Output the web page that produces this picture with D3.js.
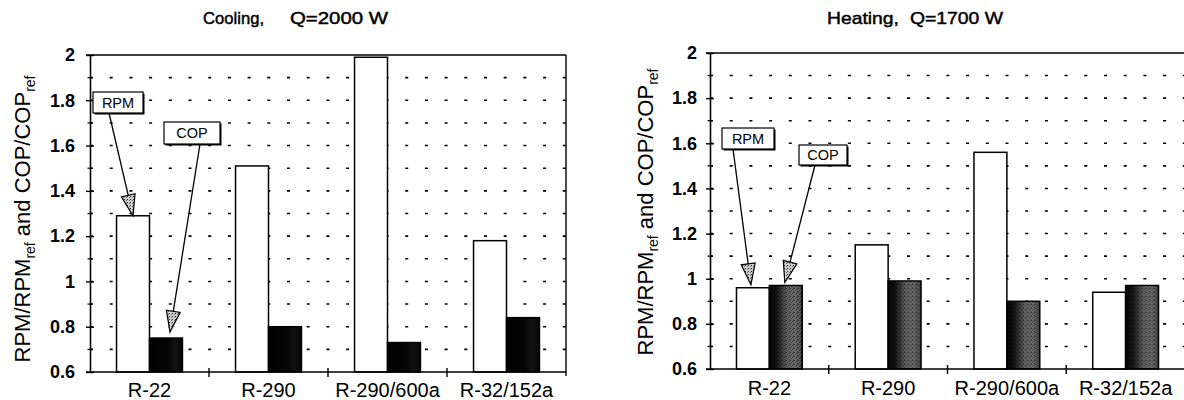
<!DOCTYPE html>
<html>
<head>
<meta charset="utf-8">
<script src="https://cdn.jsdelivr.net/npm/d3@7"></script>
<style>
  html, body { margin: 0; padding: 0; background: #fff; }
  svg { display: block; font-family: "Liberation Sans", Arial, Helvetica, sans-serif; }
</style>
</head>
<body>
<svg id="chart" width="1184" height="400"></svg>
<script>
// ---- data ----
const categories = ["R-22", "R-290", "R-290/600a", "R-32/152a"];
const seriesNames = ["RPM", "COP"];
const coolingRPM = [1.29, 1.51, 1.99, 1.18];
const coolingCOP = [0.75, 0.80, 0.73, 0.84];
const heatingRPM = [0.96, 1.15, 1.56, 0.94];
const heatingCOP = [0.97, 0.99, 0.90, 0.97];
const yTicks = [0.6, 0.8, 1, 1.2, 1.4, 1.6, 1.8, 2];
const yTickLabels = ["0.6", "0.8", "1", "1.2", "1.4", "1.6", "1.8", "2"];
const yMinorTicks = [0.7, 0.9, 1.1, 1.3, 1.5, 1.7, 1.9];
const yGridValues = [0.7, 0.8, 0.9, 1.0, 1.1, 1.2, 1.3, 1.4, 1.5, 1.6, 1.7, 1.8, 1.9];
const panelTitles = ["Cooling,   Q=2000 W", "Heating,  Q=1700 W"];

// ---- layout ----
const panels = [
  { title: panelTitles[0], rpm: coolingRPM, cop: coolingCOP,
    x0: 90, x1: 566, yTop: 55, yBot: 372,
    titleY: 24, titleParts: [[203, 61], [290, 98]],
    yTitleX: 29.5, yTitleY: 219, labelY: 396.5,
    tickLabelGap: 15, copFill: "copCool", speckOpacity: 0.35 },
  { title: panelTitles[1], rpm: heatingRPM, cop: heatingCOP,
    x0: 710, x1: 1185, yTop: 53, yBot: 369,
    titleY: 23.5, titleParts: [[827, 72], [910, 93]],
    yTitleX: 653, yTitleY: 212, labelY: 395,
    tickLabelGap: 13, copFill: "copHeat", speckOpacity: 0.55 }
];

// callout boxes with arrows pointing at bar tops
const callouts = [
  { panel: 0, series: "RPM", cat: "R-22", box: [93, 92, 50, 21], from: [109, 113], gap: 0, dx: 0 },
  { panel: 0, series: "COP", cat: "R-22", box: [164, 122, 56, 22], from: [200, 144], gap: 6, dx: 4 },
  { panel: 1, series: "RPM", cat: "R-22", box: [722, 128, 52, 21], from: [733, 149], gap: 3, dx: -2 },
  { panel: 1, series: "COP", cat: "R-22", box: [799, 145, 48, 20], from: [815, 165], gap: 3, dx: -1 }
];

const svg = d3.select("#chart");
const defs = svg.append("defs");

// fills: stippled arrowheads, textured dark bars
const stip = defs.append("pattern").attr("id", "stipple")
  .attr("width", 3).attr("height", 3).attr("patternUnits", "userSpaceOnUse");
stip.append("rect").attr("width", 3).attr("height", 3).attr("fill", "#cfcfcf");
stip.append("rect").attr("x", 1).attr("y", 1).attr("width", 1).attr("height", 1).attr("fill", "#222");
stip.append("rect").attr("x", 0).attr("y", 2).attr("width", 1).attr("height", 1).attr("fill", "#666");

const speck = defs.append("pattern").attr("id", "speck")
  .attr("width", 4).attr("height", 4).attr("patternUnits", "userSpaceOnUse");
[[0, 0], [2, 1], [1, 2], [3, 3], [3, 0]].forEach(([x, y]) =>
  speck.append("rect").attr("x", x).attr("y", y).attr("width", 1).attr("height", 1).attr("fill", "#000"));

function gradient(id, stops) {
  const g = defs.append("linearGradient").attr("id", id)
    .attr("x1", "0%").attr("x2", "100%").attr("y1", "0%").attr("y2", "0%");
  stops.forEach(([o, c]) => g.append("stop").attr("offset", o).attr("stop-color", c));
}
gradient("copCool", [["0%", "#000"], ["55%", "#060606"], ["80%", "#161616"], ["100%", "#030303"]]);
gradient("copHeat", [["0%", "#050505"], ["22%", "#151515"], ["55%", "#6a6a6a"], ["80%", "#707070"], ["100%", "#4a4a4a"]]);

panels.forEach((p, pi) => {
  const g = svg.append("g");
  const x = d3.scaleBand().domain(categories).range([p.x0, p.x1]).padding(0);
  const bw = x.bandwidth();
  const xs = d3.scaleBand().domain(seriesNames).range([bw * 0.223, bw * 0.777]).padding(0);
  const y = d3.scaleLinear().domain([0.6, 2]).range([p.yBot, p.yTop]);

  // dotted horizontal grid
  g.append("g").selectAll("line").data(yGridValues).join("line")
    .attr("x1", p.x0).attr("x2", p.x1)
    .attr("y1", d => y(d)).attr("y2", d => y(d))
    .attr("stroke", "#000").attr("stroke-width", 1.6)
    .attr("stroke-dasharray", "3,16.7");

  // bars
  const rows = categories.map((c, i) => ({ cat: c, RPM: p.rpm[i], COP: p.cop[i] }));
  const groups = g.append("g").selectAll("g").data(rows).join("g")
    .attr("transform", d => `translate(${x(d.cat)},0)`);
  groups.selectAll("rect.bar").data(d => seriesNames.map(s => ({ s, v: d[s] }))).join("rect")
    .attr("class", "bar")
    .attr("x", d => xs(d.s)).attr("width", xs.bandwidth())
    .attr("y", d => y(d.v)).attr("height", d => y(0.6) - y(d.v))
    .attr("fill", d => d.s === "RPM" ? "#fff" : `url(#${p.copFill})`)
    .attr("stroke", "#000").attr("stroke-width", 1.5);
  groups.selectAll("rect.tex").data(d => [{ v: d.COP }]).join("rect")
    .attr("class", "tex")
    .attr("x", xs("COP")).attr("width", xs.bandwidth())
    .attr("y", d => y(d.v)).attr("height", d => y(0.6) - y(d.v))
    .attr("fill", "url(#speck)").attr("opacity", p.speckOpacity);

  // frame
  g.append("line").attr("x1", p.x0 - 4).attr("x2", p.x1).attr("y1", p.yTop).attr("y2", p.yTop)
    .attr("stroke", "#000").attr("stroke-width", 1.4);
  g.append("line").attr("x1", p.x1).attr("x2", p.x1).attr("y1", p.yTop).attr("y2", p.yBot + 4)
    .attr("stroke", "#000").attr("stroke-width", 1.4);

  // y axis
  const ya = g.append("g").attr("transform", `translate(${p.x0},0)`)
    .call(d3.axisLeft(y).tickValues(yTicks).tickFormat((d, i) => yTickLabels[i])
      .tickSizeInner(4).tickSizeOuter(0).tickPadding(p.tickLabelGap - 4));
  ya.select(".domain").attr("stroke-width", 1.6);
  ya.selectAll(".tick line").attr("x1", 4).attr("x2", -4).attr("stroke-width", 1.4);
  ya.selectAll(".tick text")
    .attr("font-family", "'Liberation Sans', Arial, sans-serif")
    .attr("font-size", 18).attr("font-weight", "bold").attr("fill", "#000");
  ya.append("g").selectAll("line").data(yMinorTicks).join("line")
    .attr("x1", -2.5).attr("x2", 2.5).attr("y1", d => y(d)).attr("y2", d => y(d))
    .attr("stroke", "#000").attr("stroke-width", 1.2);

  // x axis
  const xa = g.append("g").attr("transform", `translate(0,${p.yBot})`)
    .call(d3.axisBottom(x).tickSize(0).tickPadding(0));
  xa.select(".domain").remove();
  xa.append("line").attr("x1", p.x0 - 4).attr("x2", p.x1).attr("y1", 0).attr("y2", 0)
    .attr("stroke", "#000").attr("stroke-width", 1.6);
  xa.append("g").selectAll("line").data(categories.slice(1)).join("line")
    .attr("x1", d => x(d)).attr("x2", d => x(d)).attr("y1", -4).attr("y2", 5)
    .attr("stroke", "#000").attr("stroke-width", 1.4);
  xa.selectAll(".tick text")
    .attr("y", p.labelY - p.yBot).attr("dy", 0)
    .attr("font-family", "'Liberation Sans', Arial, sans-serif")
    .attr("font-size", 20).attr("fill", "#000");

  // panel title: the phrase before and after the wide gap sit at their own positions
  const tt = g.append("text").attr("y", p.titleY)
    .attr("font-size", 17).attr("fill", "#000")
    .attr("stroke", "#000").attr("stroke-width", 0.45);
  p.title.split(/\s{2,}/).forEach((part, i) => {
    const [px, pw] = p.titleParts[i];
    tt.append("tspan").attr("x", px).attr("textLength", pw)
      .attr("lengthAdjust", "spacingAndGlyphs").text(part);
  });

  // y axis title with subscripts
  const yt = g.append("text")
    .attr("transform", `translate(${p.yTitleX},${p.yTitleY}) rotate(-90)`)
    .attr("text-anchor", "middle").attr("font-size", 22);
  [["RPM/RPM", 0], ["ref", 1], [" and COP/COP", 0], ["ref", 1]].forEach(([t, sub], i, arr) => {
    const prevSub = i > 0 ? arr[i - 1][1] : 0;
    const dy = sub ? 5 : (prevSub ? -5 : 0);
    yt.append("tspan").attr("dy", dy).attr("font-size", sub ? 14 : 22)
      .style("white-space", "pre").text(t);
  });

  // callouts
  callouts.filter(c => c.panel === pi).forEach(c => {
    const row = rows.find(r => r.cat === c.cat);
    const tipX = x(c.cat) + xs(c.series) + xs.bandwidth() / 2 + c.dx;
    const tipY = y(row[c.series]) - c.gap;
    const [fx, fy] = c.from;
    const ang = Math.atan2(tipY - fy, tipX - fx);
    const L = 21, W = 7;
    const bx = tipX - L * Math.cos(ang), by = tipY - L * Math.sin(ang);
    const nx = -Math.sin(ang), ny = Math.cos(ang);
    g.append("line").attr("x1", fx).attr("y1", fy).attr("x2", bx).attr("y2", by)
      .attr("stroke", "#000").attr("stroke-width", 1.3);
    g.append("path")
      .attr("d", `M${tipX},${tipY}L${bx + W * nx},${by + W * ny}L${bx - W * nx},${by - W * ny}Z`)
      .attr("fill", "url(#stipple)").attr("stroke", "#000").attr("stroke-width", 1.2)
      .attr("stroke-linejoin", "miter");
    const [rx, ry, rw, rh] = c.box;
    g.append("rect").attr("x", rx + 1.5).attr("y", ry + 1.5).attr("width", rw).attr("height", rh)
      .attr("fill", "#000");
    g.append("rect").attr("x", rx).attr("y", ry).attr("width", rw).attr("height", rh)
      .attr("fill", "#fff").attr("stroke", "#000").attr("stroke-width", 1.2);
    g.append("text").attr("x", rx + rw / 2).attr("y", ry + rh / 2 + 5)
      .attr("text-anchor", "middle").attr("font-size", 14.5).text(c.series);
  });
});
</script>
</body>
</html>
